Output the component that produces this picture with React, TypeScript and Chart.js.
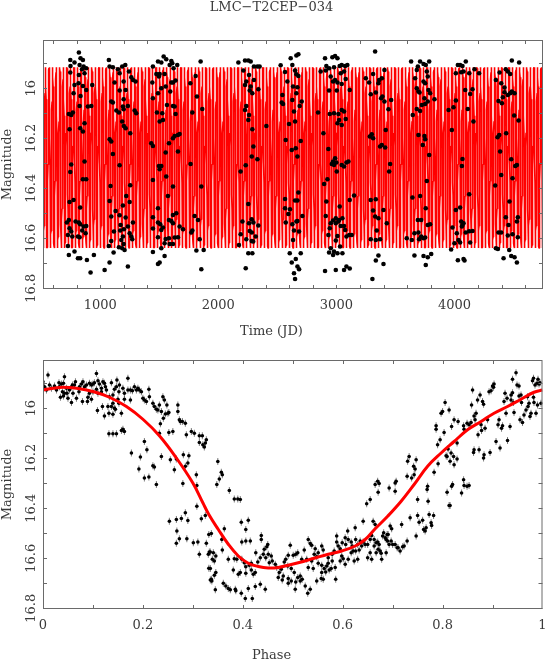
import React, { useEffect, useRef } from 'react';
import { Chart, registerables } from 'chart.js';

Chart.register(...registerables);

const TITLE = 'LMC−T2CEP−034';
const X_TITLE_TIME = 'Time (JD)';
const X_TITLE_PHASE = 'Phase';
const Y_TITLE = 'Magnitude';

const TIME_TICKS = [1000, 2000, 3000, 4000];
const PHASE_TICKS = [0, 0.2, 0.4, 0.6, 0.8, 1];
const MAG_TICKS = [16, 16.2, 16.4, 16.6, 16.8];
const TIME_RANGE = [515, 4750];
const PHASE_RANGE = [0, 1];
const MAG_RANGE = [15.807, 16.803];
const TIME_MINOR_STEP = 200;
const PHASE_MINOR_STEP = 0.1;
const MAG_MINOR_STEP = 0.1;

// model light curve
const MODEL_PHASE = [0, 0.02, 0.04, 0.067, 0.1, 0.133, 0.167, 0.2, 0.233, 0.267, 0.3, 0.32, 0.332, 0.351, 0.371, 0.391, 0.411, 0.431, 0.451, 0.471, 0.491, 0.511, 0.531, 0.551, 0.571, 0.598, 0.625, 0.645, 0.665, 0.69, 0.717, 0.743, 0.77, 0.797, 0.823, 0.85, 0.877, 0.903, 0.93, 0.957, 0.983, 1.0];
const MODEL_MAG = [15.927, 15.92, 15.916, 15.92, 15.933, 15.956, 15.993, 16.044, 16.11, 16.199, 16.299, 16.378, 16.425, 16.485, 16.544, 16.591, 16.62, 16.633, 16.639, 16.637, 16.628, 16.618, 16.607, 16.595, 16.584, 16.571, 16.551, 16.525, 16.482, 16.432, 16.372, 16.305, 16.232, 16.179, 16.133, 16.086, 16.053, 16.02, 15.993, 15.964, 15.936, 15.927];
const PERIOD = 30.2;
const EPOCH = 505;

// observations: [JD, magnitude]
const TIME_OBS: [number, number][] = [
  [819,15.857],[746,15.887],[782,15.897],[833,15.88],[853,15.887],[748,15.911],[825,15.907],[859,15.913],[881,15.92],[845,15.924],[746,15.937],[819,15.947],[867,15.94],[816,15.98],[782,15.987],[853,15.991],[932,15.987],[774,16.02],[833,16.031],[881,16.007],[924,16.071],[895,16.073],[825,16.071],[734,16.103],[754,16.107],[768,16.097],[740,16.164],[830,16.16],[867,16.14],[853,16.173],[754,16.305],[746,16.335],[867,16.293],[853,16.364],[881,16.364],[774,16.447],[740,16.455],[830,16.477],[734,16.527],[717,16.537],[791,16.533],[819,16.537],[830,16.544],[881,16.551],[859,16.553],[740,16.56],[754,16.573],[847,16.569],[726,16.587],[763,16.593],[811,16.593],[825,16.596],[876,16.58],[726,16.631],[734,16.667],[782,16.653],[811,16.68],[830,16.68],[887,16.687],[946,16.667],[918,16.737],
  [1073,15.887],[1079,15.913],[1107,15.916],[1150,15.924],[1186,15.913],[1212,15.907],[1164,15.94],[1243,15.933],[1121,15.977],[1198,15.973],[1263,15.956],[1277,15.967],[1299,15.973],[1164,16.009],[1215,16.007],[1093,16.053],[1107,16.057],[1198,16.044],[1192,16.073],[1136,16.089],[1158,16.097],[1234,16.071],[1198,16.084],[1291,16.089],[1305,16.1],[1186,16.133],[1200,16.151],[1215,16.16],[1254,16.18],[1079,16.204],[1093,16.213],[1107,16.263],[1164,16.308],[1254,16.388],[1087,16.391],[1220,16.431],[1079,16.451],[1249,16.455],[1192,16.469],[1130,16.491],[1164,16.508],[1093,16.513],[1215,16.517],[1172,16.547],[1277,16.537],[1234,16.553],[1116,16.573],[1200,16.564],[1169,16.569],[1192,16.593],[1249,16.58],[1263,16.593],[1271,16.604],[1178,16.607],[1198,16.623],[1093,16.611],[1158,16.636],[1186,16.64],[1206,16.647],[1073,16.631],[1113,16.657],[1079,16.697],[1037,16.727],[1234,16.713],
  [1537,15.873],[1489,15.893],[1517,15.897],[1559,15.884],[1602,15.891],[1610,15.9],[1588,15.907],[1652,15.907],[1621,15.92],[1446,15.913],[1475,15.943],[1503,15.943],[1497,15.953],[1545,15.943],[1441,15.977],[1602,15.977],[1616,15.977],[1638,15.969],[1554,15.993],[1593,16.013],[1517,16.0],[1489,16.02],[1446,16.04],[1616,16.071],[1630,16.073],[1565,16.067],[1525,16.1],[1480,16.097],[1503,16.133],[1531,16.127],[1638,16.103],[1630,16.191],[1658,16.187],[1616,16.2],[1672,16.183],[1432,16.22],[1446,16.231],[1582,16.22],[1554,16.257],[1658,16.253],[1497,16.311],[1517,16.311],[1503,16.324],[1559,16.353],[1446,16.367],[1616,16.393],[1573,16.431],[1489,16.48],[1644,16.5],[1616,16.507],[1446,16.516],[1489,16.537],[1582,16.527],[1602,16.531],[1508,16.544],[1531,16.557],[1672,16.553],[1517,16.567],[1616,16.54],[1701,16.564],[1446,16.561],[1489,16.596],[1554,16.603],[1582,16.6],[1630,16.597],[1658,16.596],[1545,16.62],[1588,16.623],[1517,16.64],[1616,16.623],[1446,16.655],[1545,16.671],[1489,16.703],[1503,16.697],
  [1850,15.893],[1763,15.98],[1808,15.951],[1780,16.097],[1819,16.033],[1864,16.083],[1765,16.303],[1856,16.393],[1799,16.511],[1828,16.527],[1780,16.569],[1771,16.577],[1842,16.604],[1814,16.649],[1876,16.647],[1856,16.724],
  [2170,15.897],[2226,15.889],[2254,15.889],[2274,15.893],[2302,15.913],[2331,15.913],[2350,15.913],[2212,15.929],[2260,15.947],[2302,15.967],[2237,15.973],[2226,15.987],[2274,15.993],[2339,16.004],[2266,16.009],[2288,16.02],[2237,16.071],[2226,16.087],[2260,16.107],[2254,16.127],[2288,16.164],[2297,16.233],[2283,16.273],[2331,16.284],[2232,16.308],[2189,16.333],[2254,16.463],[2204,16.533],[2283,16.524],[2260,16.54],[2297,16.537],[2339,16.549],[2266,16.571],[2283,16.577],[2189,16.584],[2317,16.593],[2237,16.604],[2283,16.611],[2294,16.613],[2175,16.627],[2254,16.66],[2288,16.66],[2232,16.72],[2407,16.151],
  [2613,15.88],[2661,15.869],[2678,15.864],[2627,15.907],[2528,15.908],[2565,15.935],[2650,15.929],[2661,15.944],[2678,15.951],[2585,15.973],[2633,15.993],[2670,15.996],[2661,16.02],[2543,16.027],[2537,16.057],[2548,16.063],[2627,16.047],[2689,16.071],[2706,16.053],[2641,16.093],[2650,16.133],[2599,16.143],[2571,16.207],[2698,16.211],[2656,16.24],[2622,16.247],[2670,16.273],[2565,16.443],[2650,16.449],[2670,16.449],[2678,16.417],[2565,16.48],[2607,16.484],[2593,16.503],[2712,16.511],[2571,16.537],[2627,16.544],[2661,16.533],[2670,16.531],[2641,16.569],[2684,16.573],[2633,16.607],[2605,16.66],[2698,16.66],[2656,16.683],[2622,16.697],[2670,16.713],[2684,16.724],[2641,16.74],[2650,16.763],
  [2904,15.88],[2966,15.876],[2989,15.871],[3009,15.88],[2915,15.911],[2938,15.92],[2980,15.916],[3028,15.911],[3045,15.907],[3074,15.911],[3093,15.907],[2867,15.933],[2910,15.929],[2952,15.953],[2989,15.967],[3009,15.977],[2972,15.973],[3037,15.94],[3065,15.933],[3079,15.963],[3045,15.983],[2938,16.009],[3003,16.009],[3113,16.007],[2845,16.097],[2944,16.103],[2980,16.1],[3017,16.103],[3045,16.087],[3065,16.093],[3079,16.123],[3023,16.127],[3009,16.14],[3045,16.147],[2890,16.18],[2932,16.243],[2989,16.28],[2972,16.293],[2961,16.303],[3000,16.297],[2980,16.307],[3045,16.307],[3085,16.297],[3102,16.293],[3003,16.333],[3065,16.313],[2924,16.364],[2896,16.383],[3150,16.429],[3113,16.447],[2915,16.453],[3028,16.473],[2910,16.511],[2995,16.52],[2972,16.529],[3023,16.527],[3051,16.52],[2952,16.54],[2995,16.54],[3017,16.533],[3037,16.551],[3065,16.551],[2944,16.56],[3074,16.567],[3108,16.587],[3130,16.587],[3009,16.591],[3085,16.593],[2932,16.587],[2995,16.609],[2952,16.64],[3031,16.633],[2980,16.653],[3009,16.66],[2972,16.667],[3051,16.66],[2938,16.657],[2904,16.731],[2995,16.727],[3085,16.713],[3113,16.721],[3065,16.727],
  [3328,15.853],[3249,15.96],[3277,15.977],[3311,15.943],[3291,16.024],[3334,16.017],[3283,16.193],[3300,16.184],[3311,16.2],[3291,16.447],[3311,16.489],[3328,16.513],[3334,16.444],[3291,16.604],[3334,16.607],[3334,16.689],[3305,16.763],
  [3407,15.927],[3362,15.967],[3385,15.96],[3356,15.98],[3379,16.04],[3390,16.033],[3407,16.053],[3464,16.047],[3441,16.084],[3418,16.167],[3370,16.233],[3385,16.227],[3413,16.237],[3455,16.303],[3447,16.333],[3399,16.487],[3356,16.52],[3427,16.54],[3342,16.569],[3370,16.604],[3356,16.669],[3399,16.703],
  [3633,15.893],[3709,15.893],[3738,15.903],[3757,15.907],[3786,15.893],[3690,15.913],[3681,15.927],[3766,15.933],[3774,15.953],[3667,15.96],[3738,15.973],[3752,15.98],[3704,16.017],[3695,16.013],[3681,16.0],[3780,16.007],[3794,16.02],[3746,16.04],[3831,16.044],[3752,16.063],[3724,16.067],[3681,16.083],[3709,16.091],[3647,16.107],[3774,16.053],[3695,16.187],[3746,16.191],[3752,16.204],[3732,16.227],[3786,16.267],[3766,16.371],[3709,16.431],[3644,16.437],[3757,16.48],[3690,16.527],[3718,16.527],[3774,16.547],[3794,16.544],[3661,16.58],[3695,16.577],[3718,16.593],[3738,16.6],[3752,16.597],[3596,16.6],[3639,16.607],[3701,16.604],[3803,16.663],[3738,16.671],[3774,16.676],[3661,16.669],[3757,16.707],
  [4029,15.907],[4048,15.907],[4068,15.911],[4096,15.893],[4170,15.924],[4209,15.94],[4077,15.933],[4057,15.936],[4125,15.94],[4012,15.94],[4091,16.007],[4133,16.023],[4153,16.004],[4012,16.049],[3992,16.076],[3950,16.087],[4113,16.083],[4161,16.133],[3978,16.167],[4068,16.283],[4063,16.311],[4125,16.424],[4012,16.487],[4048,16.477],[4057,16.533],[4077,16.54],[4068,16.547],[4063,16.553],[3983,16.557],[4020,16.58],[4096,16.577],[4125,16.572],[4153,16.571],[4034,16.607],[4000,16.62],[4048,16.617],[4133,16.617],[3972,16.645],[4029,16.688],[4077,16.683],[4085,16.689],
  [4486,15.889],[4548,15.897],[4435,15.924],[4452,15.933],[4472,15.943],[4382,15.937],[4351,15.967],[4396,15.98],[4424,15.997],[4424,16.016],[4472,16.02],[4486,16.013],[4509,16.02],[4452,16.027],[4410,16.036],[4373,16.051],[4402,16.06],[4506,16.109],[4543,16.129],[4379,16.187],[4365,16.196],[4438,16.18],[4387,16.253],[4481,16.284],[4515,16.311],[4529,16.307],[4492,16.36],[4396,16.347],[4345,16.389],[4466,16.453],[4435,16.516],[4537,16.516],[4529,16.533],[4458,16.547],[4373,16.577],[4396,16.577],[4492,16.584],[4452,16.589],[4537,16.596],[4351,16.64],[4368,16.643],[4464,16.647],[4416,16.68],[4481,16.671],[4509,16.676],[4529,16.697]
];

// phased observations: [phase, magnitude]
const PHASE_OBS: [number, number][] = [
  [0.01,15.867],[0.013,15.907],[0.003,15.914],[0.0,15.894],[0.007,15.927],[0.017,15.92],[0.023,15.911],[0.027,15.927],[0.033,15.914],[0.037,15.903],[0.032,15.898],[0.043,15.874],[0.041,15.9],[0.047,15.92],[0.039,15.934],[0.048,15.94],[0.053,15.927],[0.057,15.914],[0.063,15.907],[0.065,15.894],[0.059,15.907],[0.073,15.914],[0.077,15.903],[0.08,15.894],[0.083,15.914],[0.087,15.907],[0.093,15.9],[0.097,15.907],[0.1,15.903],[0.107,15.861],[0.103,15.898],[0.11,15.89],[0.113,15.903],[0.117,15.92],[0.12,15.894],[0.123,15.9],[0.125,15.914],[0.107,15.924],[0.1,15.934],[0.093,15.94],[0.089,15.973],[0.079,15.973],[0.067,15.96],[0.057,15.977],[0.05,15.96],[0.041,15.951],[0.035,15.956],[0.043,15.94],[0.06,15.94],[0.072,15.934],[0.09,15.956],[0.097,15.964],[0.11,15.94],[0.117,15.934],[0.127,15.927],[0.133,15.954],[0.137,15.898],[0.14,15.947],[0.143,15.924],[0.147,15.914],[0.148,15.887],[0.152,15.934],[0.153,15.907],[0.16,15.92],[0.163,15.94],[0.17,15.88],[0.17,15.927],[0.175,15.927],[0.179,15.93],[0.183,15.914],[0.187,15.927],[0.19,15.92],[0.193,15.927],[0.197,15.934],[0.175,15.967],[0.163,15.964],[0.15,15.964],[0.14,15.98],[0.137,15.993],[0.143,16.0],[0.152,15.98],[0.132,16.02],[0.123,16.031],[0.109,16.009],[0.119,15.993],[0.13,15.993],[0.157,16.02],[0.14,16.024],[0.145,16.004],[0.2,15.96],[0.203,15.967],[0.207,15.973],[0.212,15.924],[0.213,15.954],[0.22,15.98],[0.223,15.993],[0.227,16.004],[0.233,15.987],[0.23,16.007],[0.237,16.013],[0.24,15.954],[0.243,15.967],[0.248,15.987],[0.25,16.02],[0.245,16.023],[0.252,16.017],[0.27,15.987],[0.27,16.013],[0.275,16.053],[0.279,16.053],[0.285,16.06],[0.132,16.102],[0.14,16.102],[0.147,16.102],[0.157,16.089],[0.16,16.084],[0.163,16.093],[0.177,16.179],[0.192,16.243],[0.195,16.195],[0.203,16.279],[0.208,16.166],[0.203,16.133],[0.212,16.275],[0.22,16.23],[0.223,16.235],[0.227,16.305],[0.237,16.193],[0.233,16.1],[0.235,16.062],[0.241,16.04],[0.252,16.097],[0.255,16.206],[0.26,16.093],[0.263,16.246],[0.267,16.203],[0.273,16.046],[0.281,16.186],[0.285,16.232],[0.29,16.219],[0.292,16.19],[0.28,16.301],[0.287,16.106],[0.297,16.093],[0.307,16.266],[0.308,16.309],[0.303,16.1],[0.313,16.11],[0.319,16.11],[0.313,16.137],[0.32,16.146],[0.325,16.139],[0.327,16.126],[0.323,16.155],[0.308,16.392],[0.317,16.442],[0.325,16.429],[0.253,16.452],[0.267,16.445],[0.277,16.441],[0.285,16.418],[0.29,16.449],[0.268,16.491],[0.273,16.522],[0.267,16.54],[0.288,16.522],[0.301,16.538],[0.31,16.535],[0.313,16.584],[0.327,16.54],[0.332,16.505],[0.333,16.575],[0.332,16.64],[0.335,16.687],
  [0.35,16.213],[0.348,16.305],[0.353,16.283],[0.357,16.256],[0.359,16.266],[0.373,16.329],[0.383,16.363],[0.39,16.363],[0.395,16.365],[0.397,16.456],[0.406,16.485],[0.411,16.448],[0.406,16.531],[0.415,16.531],[0.398,16.535],[0.363,16.482],[0.337,16.501],[0.358,16.525],[0.359,16.567],[0.341,16.578],[0.335,16.575],[0.339,16.604],[0.343,16.611],[0.346,16.591],[0.331,16.584],[0.335,16.641],[0.338,16.691],[0.346,16.657],[0.343,16.668],[0.337,16.684],[0.345,16.726],[0.361,16.7],[0.366,16.711],[0.371,16.721],[0.375,16.726],[0.385,16.724],[0.386,16.73],[0.397,16.74],[0.405,16.761],[0.419,16.761],[0.411,16.721],[0.425,16.713],[0.435,16.704],[0.445,16.724],[0.383,16.602],[0.388,16.604],[0.371,16.604],[0.381,16.647],[0.391,16.664],[0.395,16.657],[0.398,16.604],[0.403,16.618],[0.406,16.634],[0.413,16.628],[0.417,16.62],[0.406,16.66],[0.417,16.647],[0.425,16.657],[0.421,16.664],[0.426,16.578],[0.435,16.598],[0.43,16.615],[0.437,16.525],[0.437,16.509],[0.443,16.564],[0.448,16.554],[0.45,16.545],[0.441,16.584],[0.446,16.598],[0.451,16.584],[0.457,16.591],[0.453,16.618],[0.459,16.611],[0.465,16.624],[0.468,16.637],[0.473,16.657],[0.477,16.644],[0.483,16.615],[0.486,16.604],[0.491,16.588],[0.495,16.548],[0.49,16.631],[0.497,16.641],[0.501,16.588],[0.506,16.584],[0.51,16.578],[0.503,16.657],[0.51,16.677],[0.515,16.671],[0.519,16.684],[0.525,16.711],[0.535,16.724],[0.53,16.74],[0.506,16.695],[0.491,16.681],[0.497,16.691],[0.481,16.671],[0.471,16.677],[0.479,16.687],[0.491,16.7],[0.505,16.724],[0.515,16.691],[0.523,16.567],[0.531,16.525],[0.535,16.541],[0.538,16.548],[0.545,16.562],[0.543,16.584],[0.548,16.594],[0.551,16.578],[0.558,16.551],[0.561,16.567],[0.518,16.604],[0.528,16.604],[0.538,16.611],[0.551,16.62],[0.558,16.628],[0.563,16.641],[0.568,16.631],[0.558,16.657],[0.548,16.691],[0.557,16.681],[0.561,16.684],[0.531,16.637],[0.541,16.641],[0.571,16.598],[0.579,16.584],[0.583,16.571],[0.588,16.511],[0.588,16.535],[0.591,16.551],[0.595,16.562],[0.599,16.538],[0.598,16.591],[0.601,16.602],[0.605,16.518],[0.606,16.545],[0.611,16.525],[0.61,16.491],[0.617,16.535],[0.619,16.551],[0.621,16.571],[0.625,16.478],[0.626,16.525],[0.63,16.545],[0.635,16.531],[0.638,16.551],[0.641,16.535],[0.645,16.545],[0.65,16.545],[0.655,16.525],[0.658,16.509],[0.661,16.452],[0.665,16.465],[0.641,16.452],[0.648,16.382],[0.655,16.365],[0.665,16.305],[0.655,16.578],[0.65,16.598],[0.658,16.604],[0.663,16.551],[0.63,16.604],[0.623,16.611],[0.611,16.604],[0.605,16.624],[0.585,16.637],[0.577,16.641],[0.571,16.62],[0.579,16.611],[0.595,16.611],[0.573,16.647],[0.566,16.655],[0.586,16.684],[0.617,16.578],[0.626,16.571],[0.633,16.567],
  [0.663,16.525],[0.667,16.538],[0.67,16.535],[0.673,16.545],[0.675,16.571],[0.677,16.58],[0.678,16.604],[0.68,16.511],[0.682,16.498],[0.685,16.518],[0.687,16.525],[0.689,16.505],[0.69,16.531],[0.693,16.545],[0.697,16.531],[0.7,16.545],[0.705,16.545],[0.709,16.558],[0.711,16.558],[0.715,16.571],[0.72,16.554],[0.723,16.551],[0.729,16.531],[0.687,16.578],[0.691,16.505],[0.698,16.482],[0.695,16.471],[0.667,16.578],[0.671,16.564],[0.67,16.292],[0.673,16.301],[0.671,16.336],[0.693,16.319],[0.705,16.299],[0.707,16.292],[0.705,16.332],[0.718,16.465],[0.729,16.272],[0.73,16.212],[0.733,16.193],[0.735,16.438],[0.738,16.279],[0.742,16.232],[0.745,16.243],[0.747,16.206],[0.743,16.266],[0.747,16.511],[0.75,16.429],[0.75,16.365],[0.753,16.456],[0.76,16.448],[0.762,16.485],[0.765,16.491],[0.767,16.478],[0.769,16.325],[0.77,16.312],[0.771,16.372],[0.773,16.425],[0.777,16.458],[0.778,16.469],[0.782,16.429],[0.783,16.256],[0.787,16.07],[0.787,16.084],[0.79,16.146],[0.791,16.222],[0.795,16.126],[0.797,16.02],[0.803,16.097],[0.8,16.013],[0.805,15.977],[0.807,16.19],[0.809,16.336],[0.809,16.193],[0.811,16.163],[0.813,16.389],[0.815,16.389],[0.817,16.179],[0.818,16.312],[0.82,16.305],[0.822,16.193],[0.823,16.226],[0.829,16.203],[0.815,16.212],[0.813,16.007],[0.818,16.073],[0.823,16.046],[0.829,16.139],[0.831,16.053],[0.838,16.339],[0.842,16.286],[0.843,16.309],[0.849,16.312],[0.853,16.309],[0.842,16.07],[0.843,16.084],[0.849,16.06],[0.853,16.066],[0.857,16.057],[0.858,15.987],[0.86,15.927],[0.863,16.031],[0.865,16.046],[0.863,16.166],[0.862,16.177],[0.867,16.02],[0.87,15.967],[0.871,16.106],[0.875,15.947],[0.877,16.066],[0.878,16.089],[0.88,15.973],[0.882,15.984],[0.883,16.186],[0.882,16.199],[0.873,16.166],[0.885,16.08],[0.89,16.046],[0.893,15.934],[0.897,15.93],[0.9,15.911],[0.902,15.916],[0.903,15.903],[0.895,16.177],[0.907,16.133],[0.911,16.066],[0.915,16.159],[0.913,16.046],[0.918,16.08],[0.92,16.07],[0.923,15.973],[0.927,16.02],[0.925,15.94],[0.929,15.96],[0.93,16.129],[0.935,16.073],[0.94,15.938],[0.937,15.947],[0.942,15.977],[0.943,16.017],[0.947,15.858],[0.949,15.907],[0.953,15.911],[0.957,15.947],[0.955,16.046],[0.958,15.977],[0.96,16.057],[0.963,16.027],[0.967,16.007],[0.97,15.954],[0.973,15.98],[0.975,16.033],[0.98,15.89],[0.982,15.88],[0.985,15.907],[0.989,15.9],[0.991,15.884],[0.993,15.903],[0.995,15.898],[0.997,15.98],[0.983,15.977],[0.977,16.02],[0.971,15.993],[0.987,16.02],[0.99,15.987],[0.982,15.956],[0.937,15.967],[0.94,15.884],[0.953,15.951]
];

const FONT_FAMILY = '"DejaVu Serif", "Liberation Serif", serif';
const TEXT_COLOR = '#3a3a3a';
const FRAME_COLOR = '#6a6a6a';
const TICK_LEN = 4;
const W = 547;
const TOP_H = 340;
const BOT_H = 319;
const FONT_SIZE = 13;
const LINE_H = FONT_SIZE * 1.2;

function steps(from: number, to: number, step: number): number[] {
  const out: number[] = [];
  const n = Math.round((to - from) / step);
  for (let i = 0; i <= n; i++) out.push(+(from + i * step).toFixed(6));
  return out;
}

function modelOverTime() {
  const pts: { x: number; y: number }[] = [];
  const k0 = Math.floor((TIME_RANGE[0] - EPOCH) / PERIOD) - 1;
  const k1 = Math.ceil((TIME_RANGE[1] - EPOCH) / PERIOD) + 1;
  for (let k = k0; k <= k1; k++) {
    for (let i = 0; i < MODEL_PHASE.length; i++) {
      pts.push({ x: EPOCH + (k + MODEL_PHASE[i]) * PERIOD, y: MODEL_MAG[i] });
    }
  }
  return pts;
}

function frameTicks(xMinor: number[], yMinor: number[]) {
  return {
    id: 'frameTicks',
    afterDraw(chart: any) {
      const { ctx, chartArea: a } = chart;
      const sx = chart.scales.x;
      const sy = chart.scales.y;
      ctx.save();
      ctx.strokeStyle = FRAME_COLOR;
      ctx.lineWidth = 1;
      ctx.beginPath();
      xMinor.forEach((v) => {
        const p = Math.round(sx.getPixelForValue(v)) + 0.5;
        ctx.moveTo(p, a.bottom);
        ctx.lineTo(p, a.bottom - TICK_LEN);
        ctx.moveTo(p, a.top);
        ctx.lineTo(p, a.top + TICK_LEN);
      });
      yMinor.forEach((v) => {
        const p = Math.round(sy.getPixelForValue(v)) + 0.5;
        ctx.moveTo(a.left, p);
        ctx.lineTo(a.left + TICK_LEN, p);
        ctx.moveTo(a.right, p);
        ctx.lineTo(a.right - TICK_LEN, p);
      });
      ctx.stroke();
      ctx.strokeRect(a.left + 0.5, a.top + 0.5, a.right - a.left - 1, a.bottom - a.top - 1);
      ctx.restore();
    },
  };
}

const font = { family: FONT_FAMILY, size: FONT_SIZE, weight: 'normal' as const };

function yScale() {
  return {
    type: 'linear' as const,
    reverse: true,
    min: MAG_RANGE[0],
    max: MAG_RANGE[1],
    afterBuildTicks: (s: any) => {
      s.ticks = MAG_TICKS.map((v) => ({ value: v }));
    },
    afterFit: (s: any) => {
      s.width = 43;
      s.paddingTop = 0;
      s.paddingBottom = 0;
    },
    ticks: {
      font,
      color: TEXT_COLOR,
      padding: -3,
      minRotation: 90,
      maxRotation: 90,
      crossAlign: 'center' as const,
      autoSkip: false,
      callback: (v: any) => String(v),
    },
    grid: { display: false, drawTicks: false },
    border: { display: false },
    title: { display: true, text: Y_TITLE, font, color: TEXT_COLOR, padding: { top: 0, bottom: 0 } },
  };
}

function xScale(range: number[], ticks: number[], height: number) {
  return {
    type: 'linear' as const,
    min: range[0],
    max: range[1],
    afterBuildTicks: (s: any) => {
      s.ticks = ticks.map((v) => ({ value: v }));
    },
    afterFit: (s: any) => {
      s.height = height;
      s.paddingLeft = 0;
      s.paddingRight = 0;
    },
    ticks: {
      font,
      color: TEXT_COLOR,
      padding: 0,
      maxRotation: 0,
      autoSkip: false,
      callback: (v: any) => String(v),
    },
    grid: { display: false, drawTicks: true, tickLength: 9 },
    border: { display: false },
  };
}

export default function App() {
  const topRef = useRef<HTMLCanvasElement>(null);
  const botRef = useRef<HTMLCanvasElement>(null);

  useEffect(() => {
    Chart.defaults.font.family = FONT_FAMILY;
    const topTitleBottomPad = 1;
    const topSubBox = LINE_H + topTitleBottomPad;
    const topChart = new Chart(topRef.current as HTMLCanvasElement, {
      type: 'scatter',
      data: {
        datasets: [
          {
            label: 'observations',
            data: TIME_OBS.map(([x, y]) => ({ x, y })),
            pointRadius: 2.3,
            pointBackgroundColor: '#000',
            pointBorderWidth: 0,
            pointHoverRadius: 2.3,
          },
          {
            label: 'model',
            data: modelOverTime(),
            showLine: true,
            borderColor: '#ff0000',
            borderWidth: 1.6,
            borderJoinStyle: 'bevel',
            borderCapStyle: 'butt',
            pointRadius: 0,
            tension: 0,
          } as any,
        ],
      },
      options: {
        animation: false,
        responsive: false,
        devicePixelRatio: 1,
        layout: { padding: { left: 0, right: 4, top: 0, bottom: 0 } },
        plugins: {
          legend: { display: false },
          tooltip: { enabled: false },
          title: {
            display: true,
            text: TITLE,
            font,
            color: TEXT_COLOR,
            padding: { top: 0, bottom: 40 - LINE_H },
          },
          subtitle: {
            display: true,
            position: 'bottom',
            text: X_TITLE_TIME,
            font,
            color: TEXT_COLOR,
            padding: { top: 0, bottom: topTitleBottomPad },
          },
        },
        scales: {
          x: xScale(TIME_RANGE, TIME_TICKS, TOP_H - 289 - topSubBox) as any,
          y: yScale() as any,
        },
      },
      plugins: [frameTicks(steps(600, 4600, TIME_MINOR_STEP), steps(15.9, 16.8, MAG_MINOR_STEP))],
    });

    const botTitleBottomPad = -4;
    const botSubBox = LINE_H + botTitleBottomPad;
    const botChart = new Chart(botRef.current as HTMLCanvasElement, {
      type: 'scatter',
      data: {
        datasets: [
          {
            label: 'model',
            data: MODEL_PHASE.map((x, i) => ({ x, y: MODEL_MAG[i] })),
            showLine: true,
            borderColor: '#ff0000',
            borderWidth: 3,
            pointRadius: 0,
            tension: 0.4,
          } as any,
          {
            label: 'observations',
            data: PHASE_OBS.map(([x, y]) => ({ x, y })),
            pointRadius: 1.8,
            pointBackgroundColor: '#000',
            pointBorderWidth: 0,
            pointHoverRadius: 1.8,
          },
          {
            label: 'errors',
            data: PHASE_OBS.map(([x, y]) => ({ x, y })),
            pointStyle: 'line',
            rotation: 90,
            pointRadius: 3.5,
            pointBorderWidth: 1,
            pointBorderColor: 'rgba(0,0,0,0.5)',
            pointHoverRadius: 3.5,
          } as any,
        ],
      },
      options: {
        animation: false,
        responsive: false,
        devicePixelRatio: 1,
        layout: { padding: { left: 0, right: 4, top: 20, bottom: 0 } },
        plugins: {
          legend: { display: false },
          tooltip: { enabled: false },
          subtitle: {
            display: true,
            position: 'bottom',
            text: X_TITLE_PHASE,
            font,
            color: TEXT_COLOR,
            padding: { top: 0, bottom: botTitleBottomPad },
          },
        },
        scales: {
          x: xScale(PHASE_RANGE, PHASE_TICKS, BOT_H - 269 - botSubBox) as any,
          y: yScale() as any,
        },
      },
      plugins: [frameTicks(steps(0.1, 0.9, PHASE_MINOR_STEP), steps(15.9, 16.8, MAG_MINOR_STEP))],
    });

    return () => {
      topChart.destroy();
      botChart.destroy();
    };
  }, []);

  return (
    <div style={{ position: 'fixed', left: 0, top: 0, width: W, height: TOP_H + BOT_H, background: '#fff' }}>
      <canvas ref={topRef} width={W} height={TOP_H} style={{ position: 'absolute', left: 0, top: 0, width: W, height: TOP_H }} />
      <canvas ref={botRef} width={W} height={BOT_H} style={{ position: 'absolute', left: 0, top: TOP_H, width: W, height: BOT_H }} />
    </div>
  );
}
